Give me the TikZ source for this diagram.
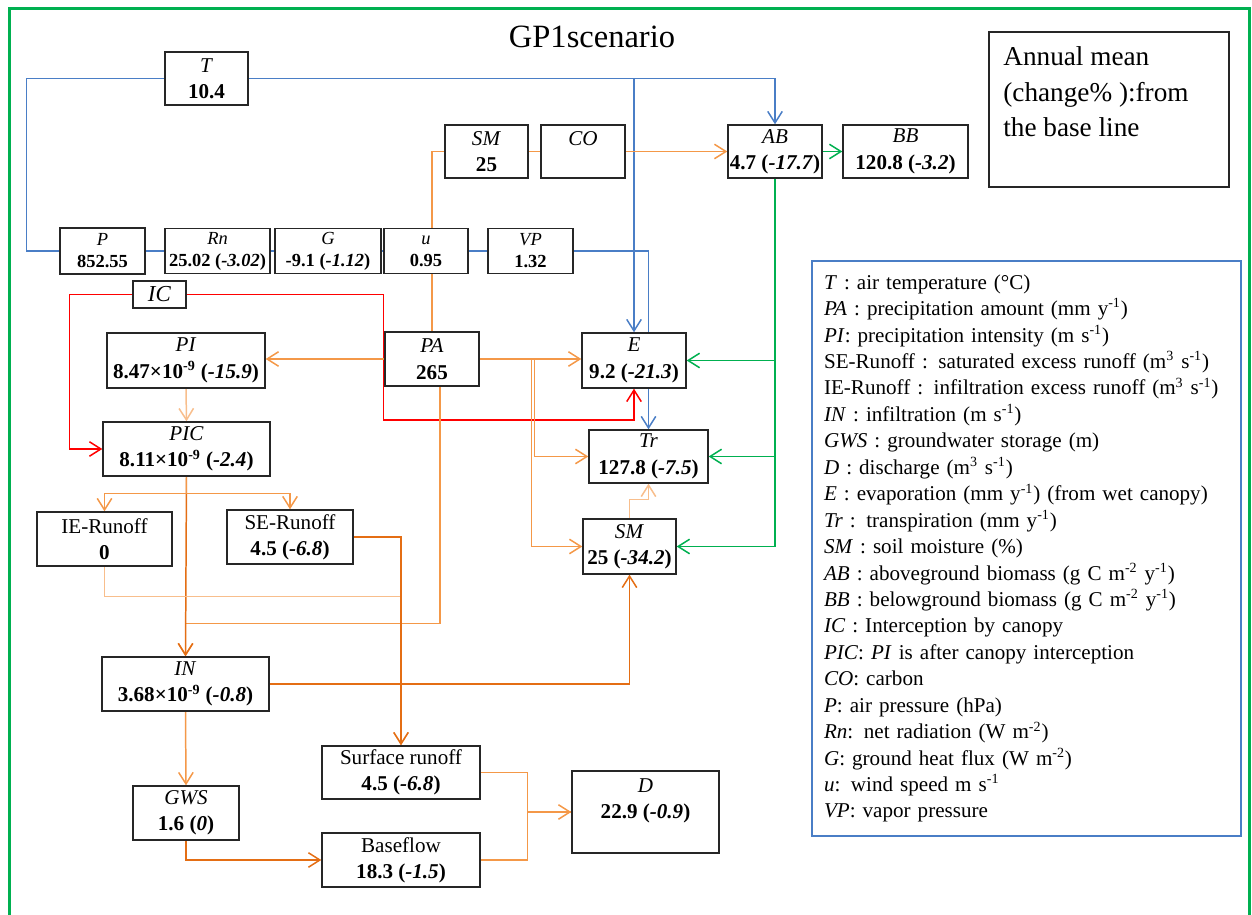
\documentclass[tikz,border=0pt]{standalone}
\usepackage{fontspec}
\setmainfont{Liberation Serif}
\usepackage{tikz}
\usetikzlibrary{arrows.meta, backgrounds}

\definecolor{lineblue}{RGB}{74,126,198}
\definecolor{linegreen}{RGB}{0,176,80}
\definecolor{linered}{RGB}{255,0,0}
\definecolor{orangedark}{RGB}{228,110,20}
\definecolor{orangemid}{RGB}{244,152,72}
\definecolor{orangelight}{RGB}{248,190,140}

\begin{document}
\begin{tikzpicture}[x=0.02cm, y=-0.02cm, % one unit = one pixel, y runs down
          varbox/.style={draw=black!85, line width=0.8pt, fill=white, align=center, inner sep=1pt, font=\fontsize{12}{15}\selectfont},
          metbox/.style={varbox, font=\fontsize{10.5}{12.5}\selectfont},
          link/.style={line width=0.85pt},
          arrowed/.style={-{Straight Barb[length=2.3mm, width=2.9mm]}}
        ]
        \useasboundingbox (0,0) rectangle (1252,915);
        % outer frame, open at the bottom of the page
        \draw[linegreen, line width=1.8pt] (9.5,8.5) rectangle (1249.5,940);
        % Title
        \node[font=\fontsize{18.5}{22}\selectfont] (title) at (592,37) {GP1scenario};

        % Climate drivers
        \node[varbox, minimum width=1.66cm, minimum height=1.06cm] (T) at (206.5,78.5) {\textit{T}\\\textbf{10.4}};
        \node[metbox, minimum width=1.70cm, minimum height=0.92cm] (P) at (102.5,251) {\textit{P}\\\textbf{852.55}};
        \node[metbox, minimum width=2.10cm, minimum height=0.90cm] (Rn) at (217.5,251) {\textit{Rn}\\\textbf{25.02 (\textit{-3.02})}};
        \node[metbox, minimum width=2.12cm, minimum height=0.90cm] (G) at (328,251) {\textit{G}\\\textbf{-9.1 (\textit{-1.12})}};
        \node[metbox, minimum width=1.68cm, minimum height=0.90cm] (u) at (426,251) {\textit{u}\\\textbf{0.95}};
        \node[metbox, minimum width=1.70cm, minimum height=0.90cm] (VP) at (530.5,251) {\textit{VP}\\\textbf{1.32}};

        % Vegetation
        \node[varbox, minimum width=1.66cm, minimum height=1.06cm] (SMa) at (486.5,151.5) {\textit{SM}\\\textbf{25}};
        \node[varbox, minimum width=1.68cm, minimum height=1.06cm] (CO) at (583,151.5) {\textit{CO}\\\mbox{}};
        \node[varbox, minimum width=1.88cm, minimum height=1.06cm] (AB) at (775,151.5) {\textit{AB}\\\textbf{4.7 (\textit{-17.7})}};
        \node[varbox, minimum width=2.50cm, minimum height=1.06cm] (BB) at (905.5,151.5) {\textit{BB}\\\textbf{120.8 (\textit{-3.2})}};

        % Water balance
        \node[varbox, minimum width=1.06cm, minimum height=0.54cm, inner sep=0pt, font=\fontsize{13}{15}\selectfont] (IC) at (159.5,294.5) {\textit{IC}};
        \node[varbox, minimum width=3.16cm, minimum height=1.10cm] (PI) at (186,360.5) {\textit{PI}\\\textbf{8.47×10\textsuperscript{-9} (\textit{-15.9})}};
        \node[varbox, minimum width=3.34cm, minimum height=1.08cm] (PIC) at (186.5,449) {\textit{PIC}\\\textbf{8.11×10\textsuperscript{-9} (\textit{-2.4})}};
        \node[varbox, minimum width=1.88cm, minimum height=1.08cm] (PA) at (432,359) {\textit{PA}\\\textbf{265}};
        \node[varbox, minimum width=2.08cm, minimum height=1.10cm] (E) at (634,360.5) {\textit{E}\\\textbf{9.2 (\textit{-21.3})}};
        \node[varbox, minimum width=2.38cm, minimum height=1.06cm] (Tr) at (648.5,456.5) {\textit{Tr}\\\textbf{127.8 (\textit{-7.5})}};
        \node[varbox, minimum width=1.86cm, minimum height=1.10cm] (SMb) at (629.5,546.5) {\textit{SM}\\\textbf{25 (\textit{-34.2})}};
        \node[varbox, minimum width=2.70cm, minimum height=1.08cm] (IE) at (104.5,539) {IE-Runoff\\\textbf{0}};
        \node[varbox, minimum width=2.52cm, minimum height=1.08cm] (SE) at (290,537) {SE-Runoff\\\textbf{4.5 (\textit{-6.8})}};
        \node[varbox, minimum width=3.34cm, minimum height=1.08cm] (IN) at (185.5,684) {\textit{IN}\\\textbf{3.68×10\textsuperscript{-9} (\textit{-0.8})}};
        \node[varbox, minimum width=2.12cm, minimum height=1.08cm] (GWS) at (186,813) {\textit{GWS}\\\textbf{1.6 (\textit{0})}};
        \node[varbox, minimum width=3.16cm, minimum height=1.06cm] (Surf) at (401,772.5) {Surface runoff\\\textbf{4.5 (\textit{-6.8})}};
        \node[varbox, minimum width=3.16cm, minimum height=1.08cm] (Base) at (401,860) {Baseflow\\\textbf{18.3 (\textit{-1.5})}};
        \node[varbox, minimum width=2.94cm, minimum height=1.64cm] (D) at (645.5,812) {\textit{D}\\\textbf{22.9 (\textit{-0.9})}\\\mbox{}};

        % Note and key
        \node[draw=black!85, line width=0.8pt, minimum width=4.8cm, minimum height=3.1cm] (note) at (1109,109.5) {};
        \node[anchor=north west, align=left, inner sep=0pt, font=\fontsize{15.5}{20.4}\selectfont] (notetext) at (1003,46) {Annual mean\\(change\% ):from\\the base line};
        \node[draw=lineblue, line width=0.8pt, minimum width=8.58cm, minimum height=11.5cm, text width=8.1cm, inner xsep=0.2cm, align=left, font=\fontsize{12}{15.05}\selectfont] (key) at (1026.5,548.5) {%
          \textit{T} : air temperature (°C)\\
          \textit{PA} : precipitation amount (mm y\textsuperscript{-1})\\
          \textit{PI}: precipitation intensity (m s\textsuperscript{-1})\\
          SE-Runoff : saturated excess runoff (m\textsuperscript{3} s\textsuperscript{-1})\\
          IE-Runoff : infiltration excess runoff (m\textsuperscript{3} s\textsuperscript{-1})\\
          \textit{IN} : infiltration (m s\textsuperscript{-1})\\
          \textit{GWS} : groundwater storage (m)\\
          \textit{D} : discharge (m\textsuperscript{3} s\textsuperscript{-1})\\
          \textit{E} : evaporation (mm y\textsuperscript{-1}) (from wet canopy)\\
          \textit{Tr} : transpiration (mm y\textsuperscript{-1})\\
          \textit{SM} : soil moisture (\%)\\
          \textit{AB} : aboveground biomass (g C m\textsuperscript{-2} y\textsuperscript{-1})\\
          \textit{BB} : belowground biomass (g C m\textsuperscript{-2} y\textsuperscript{-1})\\
          \textit{IC} : Interception by canopy\\
          \textit{PIC}: \textit{PI} is after canopy interception\\
          \textit{CO}: carbon\\
          \textit{P}: air pressure (hPa)\\
          \textit{Rn}: net radiation (W m\textsuperscript{-2})\\
          \textit{G}: ground heat flux (W m\textsuperscript{-2})\\
          \textit{u}: wind speed m s\textsuperscript{-1}\\
          \textit{VP}: vapor pressure};

        % Connectors go under the boxes
        \begin{scope}[on background layer]
        % temperature and meteorological inputs
        \draw[link, lineblue] (T.west) -- ++(-138,0) |- (P.west);
        \draw[link, lineblue, arrowed] (T.east) -| (AB.north);
        \draw[link, lineblue, arrowed] (T.east -| E.north) -- (E.north);
        \draw[link, lineblue] (P.east) -- (Rn.west);
        \draw[link, lineblue] (Rn.east) -- (G.west);
        \draw[link, lineblue] (G.east) -- (u.west);
        \draw[link, lineblue] (u.east) -- (VP.west);
        \draw[link, lineblue, arrowed] (VP.east) -| (Tr.north);
        % soil moisture and carbon to biomass
        \draw[link, orangemid] (PA.north) |- (SMa.west);
        \draw[link, orangemid] (SMa.east) -- (CO.west);
        \draw[link, orangemid, arrowed] (CO.east) -- (AB.west);
        \draw[link, linegreen, arrowed] (AB.east) -- (BB.west);
        \draw[link, linegreen, arrowed] (AB.south) |- (E.east);
        \draw[link, linegreen, arrowed] (AB.south) |- (Tr.east);
        \draw[link, linegreen, arrowed] (AB.south) |- (SMb.east);
        % canopy interception
        \draw[link, linered, arrowed] (IC.west) -- ++(-63,0) |- (PIC.west);
        \draw[link, linered, arrowed] (IC.east) -- ++(197,0) -- ++(0,125.5) -| (E.south);
        % rainfall partitioning
        \draw[link, orangemid, arrowed] (PA.west) -- (PA.west -| PI.east);
        \draw[link, orangemid, arrowed] (PA.east) -- (PA.east -| E.west);
        \draw[link, orangemid, arrowed] (PA.east) -- ++(55,0) |- (Tr.west);
        \draw[link, orangemid, arrowed] (PA.east) -- ++(52,0) |- (SMb.west);
        \draw[link, orangemid, arrowed] ([xshift=0.16cm]PA.south) -- ++(0,237) -| (IN.north);
        \draw[link, orangelight, arrowed] (PI.south) -- (PIC.north);
        \draw[link, orangedark, arrowed] (PIC.south) -- (IN.north);
        \draw[link, orangemid, arrowed] (PIC.south) -- ++(0,17) -| (IE.north);
        \draw[link, orangemid, arrowed] (PIC.south) -- ++(0,17) -| (SE.north);
        % runoff, infiltration and baseflow
        \draw[link, orangelight, arrowed] (IE.south) -- ++(0,30) -| (Surf.north);
        \draw[link, orangedark, arrowed] (SE.east) -| (Surf.north);
        \draw[link, orangedark, arrowed] (IN.east) -| (SMb.south);
        \draw[link, orangemid, arrowed] (IN.south) -- (GWS.north);
        \draw[link, orangedark, arrowed] (GWS.south) |- (Base.west);
        \draw[link, orangelight, arrowed] (SMb.north) -- ++(0,-19) -| (Tr.south);
        \draw[link, orangemid] (Surf.east) -- ++(47,0) |- (D.west);
        \draw[link, orangemid, arrowed] (Base.east) -- ++(47,0) |- (D.west);
        \end{scope}

        \end{tikzpicture}
\end{document}
